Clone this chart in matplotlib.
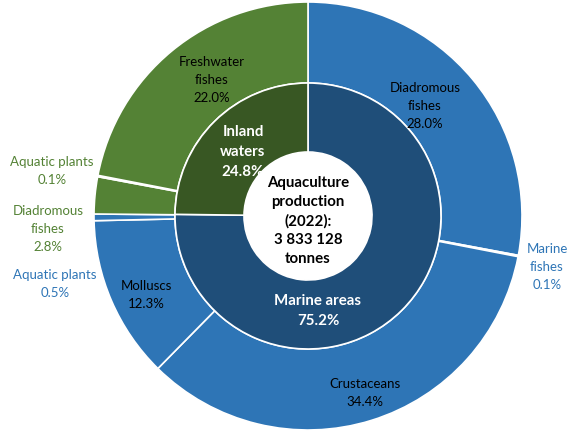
import matplotlib.pyplot as plt

# Inner ring: environment totals (%)
env_labels = ["Marine areas", "Inland waters"]
env_values = [75.2, 24.8]

# Outer ring: species groups (%), clockwise from the top
group_labels = ["Diadromous fishes", "Marine fishes", "Crustaceans", "Molluscs",
                "Aquatic plants", "Diadromous fishes", "Aquatic plants", "Freshwater fishes"]
group_values = [28.0, 0.1, 34.4, 12.3, 0.5, 2.8, 0.1, 22.0]
group_env = ["marine"] * 5 + ["inland"] * 3

total_text = "Aquaculture\nproduction\n(2022):\n3 833 128\ntonnes"

BLUE, DARK_BLUE = "#2E75B6", "#1F4E79"
GREEN, DARK_GREEN = "#548235", "#385723"

plt.rcParams['font.family'] = ['Lato', 'DejaVu Sans']

W, H = 567, 433
fig = plt.figure(figsize=(W / 100, H / 100), dpi=100)
ax = fig.add_axes([0, 0, 1, 1])
ax.set_xlim(0, W)
ax.set_ylim(0, H)
ax.set_aspect('equal')
ax.axis('off')

cx, cy = 308, H - 216
R_out, R_mid, R_in = 214, 133, 64

outer_colors = [BLUE if e == "marine" else GREEN for e in group_env]
ax.pie(group_values, radius=R_out, center=(cx, cy), startangle=90, counterclock=False,
       colors=outer_colors, wedgeprops=dict(width=R_out - R_mid, edgecolor='white', linewidth=1.2))
ax.pie(env_values, radius=R_mid, center=(cx, cy), startangle=90, counterclock=False,
       colors=[DARK_BLUE, DARK_GREEN], wedgeprops=dict(width=R_mid - R_in, edgecolor='white', linewidth=1.2))
ax.set_xlim(0, W)
ax.set_ylim(0, H)


def lab(x, y, text, color='black', weight='normal', size=9.5, spacing=1.6):
    ax.text(x, H - y, text, ha='center', va='center', color=color, fontsize=size,
            fontweight=weight, linespacing=spacing)


def pct(v):
    return f"{v:.1f}%"


# Outer ring labels (inside the wedges)
lab(425, 106, f"Diadromous\nfishes\n{pct(group_values[0])}")
lab(365, 393, f"{group_labels[2]}\n{pct(group_values[2])}")
lab(146, 295, f"{group_labels[3]}\n{pct(group_values[3])}")
lab(212, 80, f"Freshwater\nfishes\n{pct(group_values[7])}")

# Outer ring labels for thin slices (outside the ring)
lab(547, 267, f"Marine\nfishes\n{pct(group_values[1])}", color=BLUE)
lab(55, 284, f"{group_labels[4]}\n{pct(group_values[4])}", color=BLUE)
lab(48, 229, f"Diadromous\nfishes\n{pct(group_values[5])}", color=GREEN)
lab(52, 171, f"{group_labels[6]}\n{pct(group_values[6])}", color=GREEN)

# Inner ring labels
lab(243, 152, f"Inland\nwaters\n{pct(env_values[1])}", color='white', weight='bold', size=10.8, spacing=1.5)
lab(318, 311, f"{env_labels[0]}\n{pct(env_values[0])}", color='white', weight='bold', size=10.8, spacing=1.5)

# Centre total
lab(308, 221, total_text, weight='bold', size=10.8, spacing=1.45)

fig.savefig("out.png", dpi=100)
